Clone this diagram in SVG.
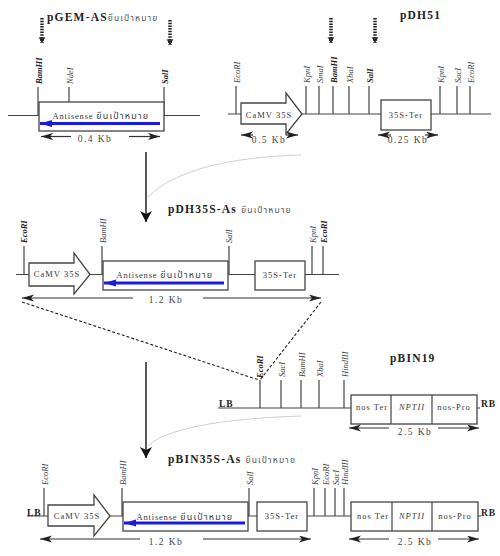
<svg xmlns="http://www.w3.org/2000/svg" width="500" height="556" viewBox="0 0 500 556">
<style>
text{font-family:"Liberation Serif","Noto Sans Thai","Noto Sans",serif;fill:#3a3a3a}
.l{fill:none;stroke:#444;stroke-width:1.2}
.b{fill:#fff;stroke:#444;stroke-width:1.3}
.t{font-size:8.5px;letter-spacing:1px;text-anchor:middle}
.a{font-size:8.5px;letter-spacing:.8px;text-anchor:middle}
.a tspan{font-size:9px;letter-spacing:1.2px}
.m{font-size:9.5px;letter-spacing:1.4px;text-anchor:middle;fill:#444}
.h{font-size:11.500px;font-weight:bold;letter-spacing:1.2px;fill:#222}
.th{font-size:8.5px;font-weight:normal;letter-spacing:1.200px;fill:#555}
.e{font-size:8.5px;font-style:italic;text-anchor:start;fill:#444}
.eb{font-size:8.5px;font-style:italic;font-weight:bold;text-anchor:start;fill:#222}
.d{font-size:9.5px;font-weight:bold;fill:#222;letter-spacing:1px}
.dim{fill:none;stroke:#333;stroke-width:1.2;marker-end:url(#ah)}
.blue{stroke:#1a1ae0;stroke-width:3;fill:none;marker-end:url(#bh)}
.dot{stroke:#222;stroke-width:3.500;stroke-dasharray:1.5 1.2;fill:none;marker-end:url(#dh)}
.gr{fill:none;stroke:#d0d0d0;stroke-width:1}
.dash{fill:none;stroke:#222;stroke-width:1.1;stroke-dasharray:3 2}
.big{fill:none;stroke:#111;stroke-width:1.4;marker-end:url(#vh)}
</style>
<defs>
<marker id="ah" markerUnits="userSpaceOnUse" markerWidth="13" markerHeight="8" refX="12" refY="3.500" orient="auto"><path d="M0 0L12 3.500L0 7L3 3.500Z" fill="#222"/></marker>
<marker id="bh" markerUnits="userSpaceOnUse" markerWidth="13" markerHeight="8" refX="12" refY="3.500" orient="auto"><path d="M0 0L12 3.500L0 7Z" fill="#1a1ae0"/></marker>
<marker id="dh" markerUnits="userSpaceOnUse" markerWidth="8" markerHeight="8" refX="6" refY="3.500" orient="auto"><path d="M0 0L6 3.500L0 7L1.500 3.500Z" fill="#222"/></marker>
<marker id="vh" markerUnits="userSpaceOnUse" markerWidth="14" markerHeight="14" refX="11" refY="6" orient="auto"><path d="M0 0L11 6L0 12L3 6Z" fill="#111"/></marker>
</defs>

<g id="connectors">
<path class="gr" d="M148 197C175 170 230 157 301 155"/>
<path class="gr" d="M148 446C170 425 240 418 301 416"/>
<path class="big" d="M146 152V222"/>
<path class="big" d="M146 362V458"/>
<path class="dash" d="M22 302L259 380"/>
<path class="dash" d="M321 302L260 380"/>
<path class="dot" d="M42 18V43"/>
<path class="dot" d="M170 20V45"/>
<path class="dot" d="M331 18V43"/>
<path class="dot" d="M375 18V43"/>
<path class="l" d="M8 115.500H39M164 115.500H200M38 87V115.500M69 87V102M164 87V115.500"/>
<path class="l" d="M228 114H491M236 86V114M306 86V114M319 86V114M333 86V114M349 86V114M369 86V114M440 86V114M457 86V114M470 86V114"/>
<path class="l" d="M16 274.500H339M24 246V274.500M102 246V274.500M229 246V274.500M312 246V274.500M323 246V274.500"/>
<path class="l" d="M218 408H351M477 408H480M260 380V408M281 380V408M301 380V408M319 380V408M344 380V408"/>
<path class="l" d="M27 516H48M110 516H123M248 516H257M307 516H351M478 516H481M44 488V516M122 488V516M249 488V516M314 488V516M325 488V516M335 488V516M344 488V516"/>
</g>

<g id="pgem-title"><text class="h" x="47" y="21">pGEM-AS<tspan class="th">ยีนเป้าหมาย</tspan></text></g>
<g id="pdh51-title"><text class="h" x="400" y="19">pDH51</text></g>
<g id="pdh35-title"><text class="h" x="168" y="213">pDH35S-As <tspan class="th">ยีนเป้าหมาย</tspan></text></g>
<g id="pbin19-title"><text class="h" x="390" y="362">pBIN19</text></g>
<g id="pbin35-title"><text class="h" x="168" y="463">pBIN35S-As <tspan class="th">ยีนเป้าหมาย</tspan></text></g>

<g id="antisense-1"><rect class="b" x="39" y="102" width="125" height="29"/><text class="a" x="101" y="119">Antisense <tspan>ยีนเป้าหมาย</tspan></text><path class="blue" d="M160 123.500H40"/></g>
<g id="camv-1"><path class="b" d="M241 103H286V93L302 114L286 134V124H241Z"/><text class="t" x="269" y="118">CaMV 35S</text></g>
<g id="ter-1"><rect class="b" x="381" y="100" width="50" height="30"/><text class="t" x="406" y="118">35S-Ter</text></g>
<g id="camv-2"><path class="b" d="M29 263H74V253L90 274.500L74 294V286H29Z"/><text class="t" x="57" y="277">CaMV 35S</text></g>
<g id="antisense-2"><rect class="b" x="103" y="261" width="125" height="29"/><text class="a" x="165" y="278">Antisense <tspan>ยีนเป้าหมาย</tspan></text><path class="blue" d="M224 283H104"/></g>
<g id="ter-2"><rect class="b" x="255" y="261" width="50" height="29"/><text class="t" x="280" y="278">35S-Ter</text></g>
<g id="bin-1"><rect class="b" x="351" y="395" width="126" height="29"/><path class="l" d="M391 395V424M432 395V424"/><text class="t" x="372" y="410">nos Ter</text><text class="t" x="412" y="410" font-style="italic">NPTII</text><text class="t" x="454" y="410">nos-Pro</text></g>
<g id="camv-3"><path class="b" d="M48 505H94V495L110 516L94 536V526H48Z"/><text class="t" x="77" y="519">CaMV 35S</text></g>
<g id="antisense-3"><rect class="b" x="123" y="502" width="125" height="29"/><text class="a" x="185" y="520">Antisense <tspan>ยีนเป้าหมาย</tspan></text><path class="blue" d="M245 523H124"/></g>
<g id="ter-3"><rect class="b" x="257" y="502" width="50" height="29"/><text class="t" x="282" y="519">35S-Ter</text></g>
<g id="bin-2"><rect class="b" x="351" y="502" width="127" height="29"/><path class="l" d="M392 502V531M432 502V531"/><text class="t" x="373" y="519">nos Ter</text><text class="t" x="412" y="519" font-style="italic">NPTII</text><text class="t" x="455" y="519">nos-Pro</text></g>

<g id="dimensions">
<path class="dim" d="M71 136.500H41"/><path class="dim" d="M129 136.500H160"/><text class="m" x="95" y="142">0.4 Kb</text>
<path class="dim" d="M253 135H241"/><path class="dim" d="M286 135H298"/><text class="m" x="269" y="143">0.5 Kb</text>
<path class="dim" d="M391 135H378"/><path class="dim" d="M425 135H438"/><text class="m" x="408" y="143">0.25 Kb</text>
<path class="dim" d="M133 298H22"/><path class="dim" d="M203 298H321"/><text class="m" x="166" y="303">1.2 Kb</text>
<path class="dim" d="M389 428H349"/><path class="dim" d="M438 428H479"/><text class="m" x="415" y="435">2.5 Kb</text>
<path class="dim" d="M140 539H40"/><path class="dim" d="M203 539H311"/><text class="m" x="166" y="545">1.2 Kb</text>
<path class="dim" d="M389 539H349"/><path class="dim" d="M438 539H479"/><text class="m" x="415" y="545">2.5 Kb</text>
</g>

<g id="sites">
<text class="eb" transform="translate(42 84) rotate(-90)">BamHI</text>
<text class="e" transform="translate(73 84) rotate(-90)">NdeI</text>
<text class="eb" transform="translate(168 84) rotate(-90)">SalI</text>
<text class="e" transform="translate(240 83) rotate(-90)">EcoRI</text>
<text class="e" transform="translate(310 83) rotate(-90)">KpnI</text>
<text class="e" transform="translate(323 83) rotate(-90)">SmaI</text>
<text class="eb" transform="translate(337 83) rotate(-90)">BamHI</text>
<text class="e" transform="translate(353 83) rotate(-90)">XbaI</text>
<text class="eb" transform="translate(373 83) rotate(-90)">SalI</text>
<text class="e" transform="translate(444 83) rotate(-90)">KpnI</text>
<text class="e" transform="translate(461 83) rotate(-90)">SacI</text>
<text class="e" transform="translate(474 83) rotate(-90)">EcoRI</text>
<text class="eb" transform="translate(27 243) rotate(-90)">EcoRI</text>
<text class="e" transform="translate(106 243) rotate(-90)">BamHI</text>
<text class="e" transform="translate(232 243) rotate(-90)">SalI</text>
<text class="e" transform="translate(316 243) rotate(-90)">KpnI</text>
<text class="eb" transform="translate(327 243) rotate(-90)">EcoRI</text>
<text class="eb" transform="translate(263 378) rotate(-90)">EcoRI</text>
<text class="e" transform="translate(285 377) rotate(-90)">SacI</text>
<text class="e" transform="translate(305 377) rotate(-90)">BamHI</text>
<text class="e" transform="translate(323 377) rotate(-90)">XbaI</text>
<text class="e" transform="translate(348 377) rotate(-90)">HindIII</text>
<text class="e" transform="translate(48 485) rotate(-90)">EcoRI</text>
<text class="e" transform="translate(126 485) rotate(-90)">BamHI</text>
<text class="e" transform="translate(253 485) rotate(-90)">SalI</text>
<text class="e" transform="translate(318 485) rotate(-90)">KpnI</text>
<text class="e" transform="translate(329 485) rotate(-90)">EcoRI</text>
<text class="e" transform="translate(339 485) rotate(-90)">SacI</text>
<text class="e" transform="translate(348 485) rotate(-90)">HindIII</text>
</g>

<g id="borders">
<text class="d" x="219" y="407">LB</text><text class="d" x="481" y="407">RB</text>
<text class="d" x="27" y="516">LB</text><text class="d" x="481" y="516">RB</text>
</g>
</svg>
